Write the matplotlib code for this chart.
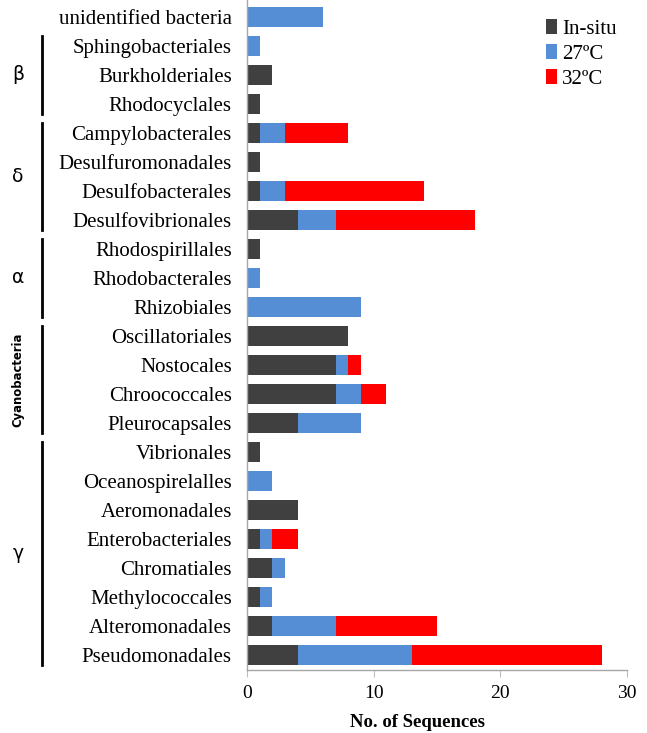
import numpy as np
import matplotlib.pyplot as plt
from matplotlib.transforms import blended_transform_factory

orders = ["unidentified bacteria", "Sphingobacteriales", "Burkholderiales", "Rhodocyclales",
          "Campylobacterales", "Desulfuromonadales", "Desulfobacterales", "Desulfovibrionales",
          "Rhodospirillales", "Rhodobacterales", "Rhizobiales",
          "Oscillatoriales", "Nostocales", "Chroococcales", "Pleurocapsales",
          "Vibrionales", "Oceanospirelalles", "Aeromonadales", "Enterobacteriales",
          "Chromatiales", "Methylococcales", "Alteromonadales", "Pseudomonadales"]
in_situ = [0, 0, 2, 1, 1, 1, 1, 4, 1, 0, 0, 8, 7, 7, 4, 1, 0, 4, 1, 2, 1, 2, 4]
t27 = [6, 1, 0, 0, 2, 0, 2, 3, 0, 1, 9, 0, 1, 2, 5, 0, 2, 0, 1, 1, 1, 5, 9]
t32 = [0, 0, 0, 0, 5, 0, 11, 11, 0, 0, 0, 0, 1, 2, 0, 0, 0, 0, 2, 0, 0, 8, 15]

# (label, first row, last row)
groups = [("β", 1, 3), ("δ", 4, 7), ("α", 8, 10), ("Cyanobacteria", 11, 14), ("γ", 15, 22)]

serif = ["Liberation Serif", "DejaVu Serif"]

fig = plt.figure(figsize=(6.47, 7.33), dpi=100)
ax = fig.add_axes([247 / 647, 63 / 733, 380 / 647, 670 / 733])

y = np.arange(len(orders))
h = 0.66
in_situ = np.array(in_situ)
t27 = np.array(t27)
t32 = np.array(t32)
ax.barh(y, in_situ, height=h, color="#404040", label="In-situ")
ax.barh(y, t27, height=h, left=in_situ, color="#558ED5", label="27ºC")
ax.barh(y, t32, height=h, left=in_situ + t27, color="#FF0000", label="32ºC")

ax.set_xlim(0, 30)
ax.set_ylim(22 + 15 / 29, -17 / 29)
ax.set_xticks([0, 10, 20, 30])
ax.set_yticks(y)
ax.set_yticklabels(orders, fontfamily=serif, fontsize=15)
for lab in ax.get_xticklabels():
    lab.set_fontfamily(serif)
    lab.set_fontsize(14)
ax.tick_params(axis="y", length=0, pad=11)
ax.tick_params(axis="x", length=5, color="#BFBFBF", direction="out", pad=6)
for side in ["top", "right"]:
    ax.spines[side].set_visible(False)
for side in ["left", "bottom"]:
    ax.spines[side].set_color("#A6A6A6")
    ax.spines[side].set_linewidth(1.0)

ax.set_xlabel("No. of Sequences", fontfamily=serif, fontsize=13.5, fontweight="bold")
ax.xaxis.set_label_coords(0.45, -0.065)

# group brackets and names to the left of the order labels
tr = blended_transform_factory(ax.transAxes, ax.transData)
for name, a, b in groups:
    ax.plot([-0.539, -0.539], [a - 0.36, b + 0.36], color="black", lw=2,
            transform=tr, clip_on=False)
    mid = (a + b) / 2
    if name == "Cyanobacteria":
        ax.text(-0.603, mid, name, transform=tr, rotation=90, ha="center", va="center",
                fontsize=8.4, fontweight="bold", fontfamily="DejaVu Sans")
    else:
        ax.text(-0.603, mid, name, transform=tr, ha="center", va="center",
                fontsize=13.5, fontfamily="DejaVu Sans")

leg = ax.legend(loc="upper right", bbox_to_anchor=(1.022, 1.0), frameon=False,
                prop={"family": serif, "size": 15}, handlelength=0.5, handleheight=0.75,
                handletextpad=0.25, labelspacing=0.25)

fig.savefig("out.png", dpi=100)
